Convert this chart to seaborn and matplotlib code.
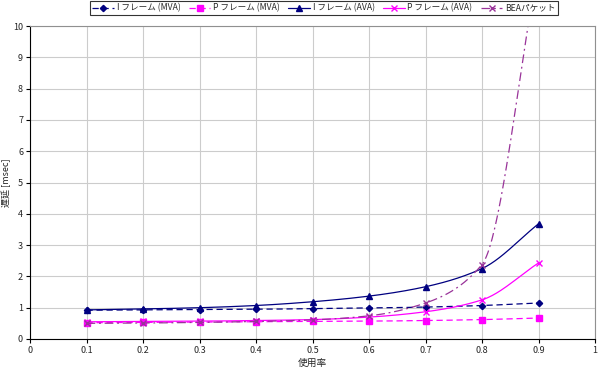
import numpy as np
import pandas as pd
import matplotlib
matplotlib.use("Agg")
import matplotlib.pyplot as plt
from matplotlib.lines import Line2D
import seaborn as sns

# ---- data ----
util = [0.1, 0.2, 0.3, 0.4, 0.5, 0.6, 0.7, 0.8, 0.9]
i_mva = [0.92, 0.93, 0.94, 0.95, 0.97, 0.99, 1.02, 1.07, 1.15]
p_mva = [0.52, 0.53, 0.54, 0.55, 0.56, 0.57, 0.59, 0.62, 0.67]
i_ava = [0.93, 0.96, 1.00, 1.07, 1.19, 1.37, 1.67, 2.25, 3.68]
p_ava = [0.55, 0.56, 0.57, 0.59, 0.62, 0.70, 0.87, 1.25, 2.43]
bea = [0.50, 0.51, 0.53, 0.56, 0.61, 0.74, 1.15, 2.38, 12.0]
labels = ["I フレーム (MVA)", "P フレーム (MVA)", "I フレーム (AVA)", "P フレーム (AVA)", "BEAパケット"]
x_ticks = [0, 0.1, 0.2, 0.3, 0.4, 0.5, 0.6, 0.7, 0.8, 0.9, 1]
x_ticklabels = ["0", "0.1", "0.2", "0.3", "0.4", "0.5", "0.6", "0.7", "0.8", "0.9", "1"]
y_ticks = list(range(0, 11))

sns.set_style("white")
plt.rcParams['font.family'] = ['Noto Sans CJK JP', 'DejaVu Sans']


def smooth(xs, ys, n=40):
    """Monotone cubic (Fritsch-Carlson) rendering of the polyline."""
    x = np.asarray(xs, float); y = np.asarray(ys, float)
    h = np.diff(x); d = np.diff(y) / h
    m = np.zeros_like(y)
    m[0] = d[0]; m[-1] = d[-1]
    for k in range(1, len(x) - 1):
        if d[k - 1] * d[k] <= 0:
            m[k] = 0
        else:
            w1 = 2 * h[k] + h[k - 1]; w2 = h[k] + 2 * h[k - 1]
            m[k] = (w1 + w2) / (w1 / d[k - 1] + w2 / d[k])
    ox, oy = [], []
    for k in range(len(x) - 1):
        t = np.linspace(0, 1, n)
        if k > 0:
            t = t[1:]
        h00 = 2 * t**3 - 3 * t**2 + 1; h10 = t**3 - 2 * t**2 + t
        h01 = -2 * t**3 + 3 * t**2; h11 = t**3 - t**2
        ox.append(x[k] + t * h[k])
        oy.append(h00 * y[k] + h10 * h[k] * m[k] + h01 * y[k + 1] + h11 * h[k] * m[k + 1])
    return np.concatenate(ox), np.concatenate(oy)


fig = plt.figure(figsize=(6.03, 3.80), dpi=100)
ax = fig.add_axes([30 / 603, 1 - 339 / 380, 565 / 603, 313 / 380])

series = [
    (i_mva, "#000080", (0, (5, 3)), "D", 3.2),
    (p_mva, "#FF00FF", (0, (5, 3)), "s", 3.8),
    (i_ava, "#000080", "-", "^", 4.2),
    (p_ava, "#FF00FF", "-", "x", 4.5),
    (bea, "#993399", (0, (7, 3, 1.5, 3)), "x", 4.5),
]

handles = []
for (vals, col, ls, mk, ms), lab in zip(series, labels):
    sx, sy = smooth(util, vals)
    df = pd.DataFrame({"x": sx, "y": sy})
    sns.lineplot(data=df, x="x", y="y", ax=ax, color=col, linewidth=0.9,
                 linestyle=ls, sort=False, estimator=None)
    dm = pd.DataFrame({"x": util, "y": vals})
    ax.plot(dm["x"], dm["y"], linestyle="none", marker=mk, color=col,
            markersize=ms, markeredgewidth=1.0, clip_on=True)
    handles.append(Line2D([], [], color=col, linestyle=ls, linewidth=0.9,
                          marker=mk, markersize=ms))

ax.set_xlim(0, 1)
ax.set_ylim(0, 10)
ax.set_xticks(x_ticks)
ax.set_xticklabels(x_ticklabels)
ax.set_yticks(y_ticks)
ax.grid(True, color="#cccccc", linewidth=0.8)
ax.tick_params(axis="both", labelsize=6.5, length=3, direction="out", color="black",
               bottom=True, left=True, pad=2)
for side, s in ax.spines.items():
    s.set_linewidth(0.8)
    s.set_color("black" if side in ("left", "bottom") else "#909090")
ax.set_xlabel("使用率", fontsize=7, labelpad=2)
ax.set_ylabel("遅延 [msec]", fontsize=6.5, labelpad=1)

leg = fig.legend(handles=handles, labels=labels, loc="upper center",
                 bbox_to_anchor=(324 / 603, 1.0), ncol=5, fontsize=6.2,
                 frameon=True, fancybox=False, edgecolor="black",
                 handlelength=2.5, columnspacing=1.0, handletextpad=0.3,
                 borderpad=0.25, borderaxespad=0.15)
leg.get_frame().set_linewidth(0.8)

fig.savefig("out.png", dpi=100)
